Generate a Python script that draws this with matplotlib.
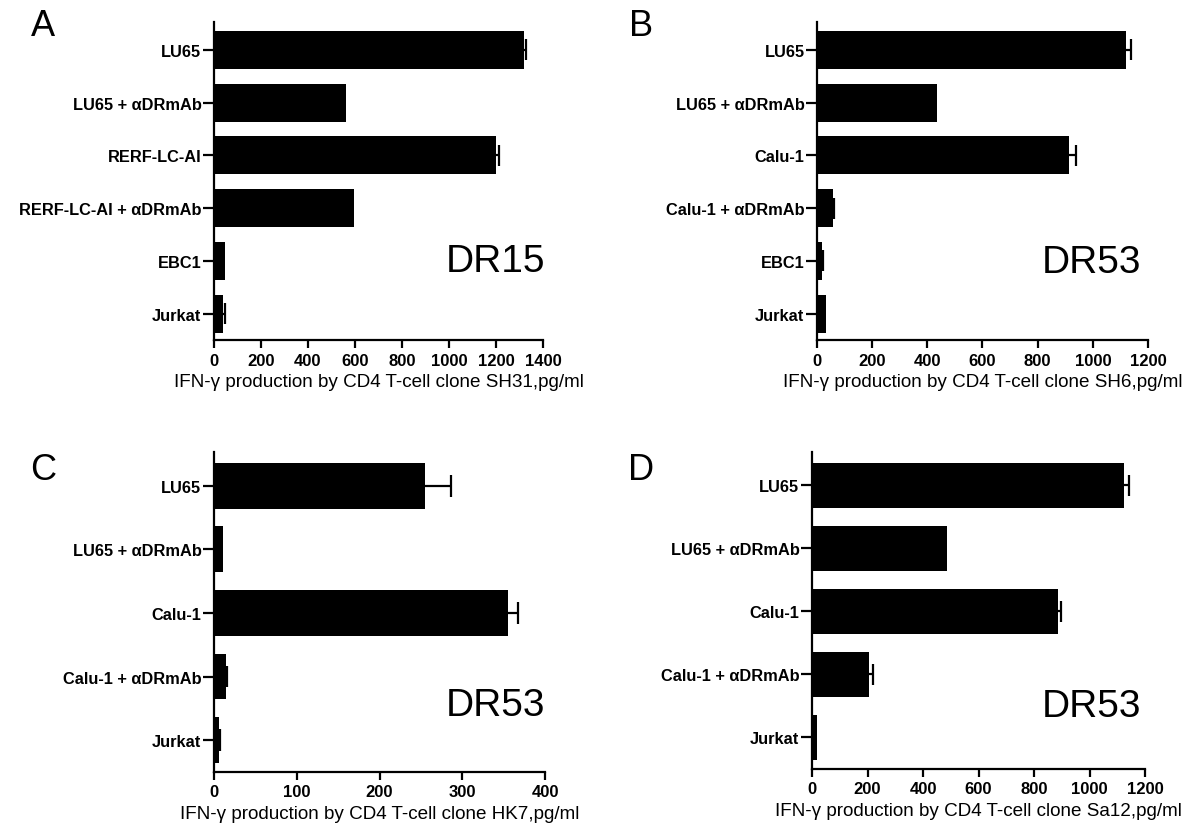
import matplotlib
matplotlib.use("Agg")
import matplotlib.pyplot as plt
import numpy as np

plt.rcParams["font.family"] = ["Liberation Sans", "DejaVu Sans"]

# Panel A - clone SH31 (DR15)
labels_a = ["LU65", "LU65 + αDRmAb", "RERF-LC-AI", "RERF-LC-AI + αDRmAb", "EBC1", "Jurkat"]
values_a = [1319, 560, 1202, 597, 45, 37]
errors_a = [8, 0, 11, 0, 0, 8]

# Panel B - clone SH6 (DR53)
labels_b = ["LU65", "LU65 + αDRmAb", "Calu-1", "Calu-1 + αDRmAb", "EBC1", "Jurkat"]
values_b = [1120, 435, 914, 59, 17, 31]
errors_b = [20, 0, 24, 4, 4, 0]

# Panel C - clone HK7 (DR53)
labels_c = ["LU65", "LU65 + αDRmAb", "Calu-1", "Calu-1 + αDRmAb", "Jurkat"]
values_c = [255, 11, 355, 14, 6.5]
errors_c = [32, 0, 12, 1.5, 1]

# Panel D - clone Sa12 (DR53)
labels_d = ["LU65", "LU65 + αDRmAb", "Calu-1", "Calu-1 + αDRmAb", "Jurkat"]
values_d = [1124, 488, 888, 205, 17]
errors_d = [19, 0, 8, 16, 0]

W, H = 1200, 837
fig = plt.figure(figsize=(12, 8.37), dpi=100)


def px_axes(left, right, top, bottom):
    return fig.add_axes([left / W, 1 - bottom / H, (right - left) / W, (bottom - top) / H])


def draw_panel(ax, labels, values, errors, xmax, step, clone, allele, allele_pos, cap):
    n = len(labels)
    y = np.arange(n)
    values = np.asarray(values, dtype=float)
    errors = np.asarray(errors, dtype=float)
    ax.barh(y, values, height=0.72, color="black")

    # one-sided (upper) error bars, only where there is an error
    has = errors > 0
    ends = values[has] + errors[has]
    ax.hlines(y[has], values[has], ends, color="black", linewidth=1.6)
    ax.vlines(ends, y[has] - cap, y[has] + cap, color="black", linewidth=1.6)

    ax.set_ylim(n - 0.5, -0.53)
    ax.set_xlim(0, xmax)
    ax.set_yticks(y)
    ax.set_yticklabels(labels, fontsize=11.8, fontweight="bold")
    ax.set_xticks(np.arange(0, xmax + 1, step))
    ax.set_xticklabels([str(v) for v in range(0, xmax + 1, step)],
                       fontsize=12, fontweight="bold")
    for side in ["top", "right"]:
        ax.spines[side].set_visible(False)
    for side in ["left", "bottom"]:
        ax.spines[side].set_linewidth(1.6)
    ax.tick_params(axis="y", length=8, width=1.6, pad=1)
    ax.tick_params(axis="x", length=6, width=1.6, pad=3)
    ax.set_xlabel("IFN-γ production by CD4 T-cell clone " + clone + ",pg/ml",
                  fontsize=13.6, labelpad=4)
    ax.text(allele_pos[0], allele_pos[1], allele, transform=ax.transAxes,
            fontsize=28, ha="center", va="center")


ax_a = px_axes(214, 543, 23, 341)
ax_b = px_axes(817, 1148, 23, 341)
ax_c = px_axes(214, 545, 453, 773)
ax_d = px_axes(812, 1145, 453, 770)

draw_panel(ax_a, labels_a, values_a, errors_a, 1400, 200, "SH31", "DR15", (0.855, 0.25), 0.2)
draw_panel(ax_b, labels_b, values_b, errors_b, 1200, 200, "SH6", "DR53", (0.83, 0.245), 0.2)
draw_panel(ax_c, labels_c, values_c, errors_c, 400, 100, "HK7", "DR53", (0.85, 0.21), 0.17)
draw_panel(ax_d, labels_d, values_d, errors_d, 1200, 200, "Sa12", "DR53", (0.84, 0.2), 0.17)

# Panel letters
for letter, (x, y) in zip("ABCD", [(43, 27), (641, 27), (43, 470), (641, 470)]):
    fig.text(x / W, 1 - y / H, letter, fontsize=26, ha="center", va="center")

fig.savefig("out.png", dpi=100)
